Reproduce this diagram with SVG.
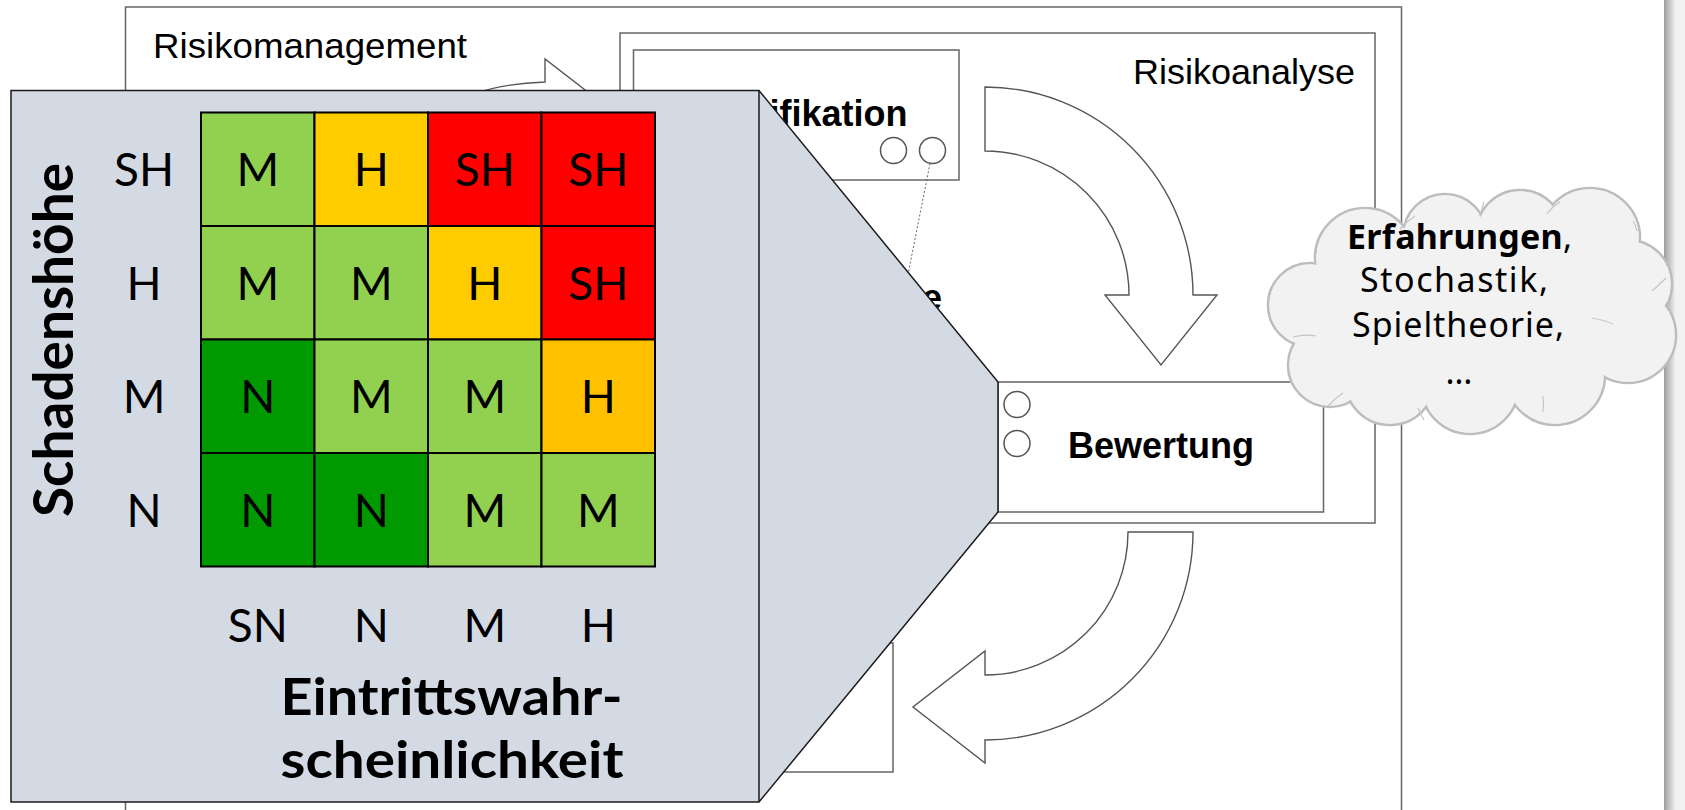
<svg xmlns="http://www.w3.org/2000/svg" width="1685" height="810" viewBox="0 0 1685 810">
  <defs>
    <linearGradient id="pageEdge" x1="0" y1="0" x2="1" y2="0">
      <stop offset="0" stop-color="#9a9a9a"/>
      <stop offset="0.25" stop-color="#b4b4b4"/>
      <stop offset="1" stop-color="#ececec"/>
    </linearGradient>
    <style>
      .frame { fill: #ffffff; stroke: #666666; stroke-width: 1.5; }
      .title { font-family: "Liberation Sans", Arial, sans-serif; font-size: 35px; fill: #000000; }
      .step { font-family: "Liberation Sans", Arial, sans-serif; font-size: 36px; font-weight: bold; fill: #000000; }
      .port { fill: #ffffff; stroke: #555555; stroke-width: 1.5; }
      .flow { fill: #ffffff; stroke: #555555; stroke-width: 1.4; }
      .link { fill: none; stroke: #666666; stroke-width: 1; stroke-dasharray: 2 2; }
      .cloudline { fill: #f2f2f2; stroke: #bdbdbd; stroke-width: 2.6; }
      .cloudfill { fill: #f2f2f2; }
      .crease { fill: none; stroke: #c4c4c4; stroke-width: 1.2; }
      .cloudtext { font-family: "Noto Sans", "DejaVu Sans", sans-serif; font-size: 34px; fill: #000000; }
      .panel { fill: #d3dae4; stroke: #1a1a1a; stroke-width: 1.5; }
      .cell { stroke: #000000; stroke-width: 2; }
      .lg { fill: #92d050; }
      .ye { fill: #ffcc00; }
      .or { fill: #ffc000; }
      .rd { fill: #ff0000; }
      .dg { fill: #009900; }
      .mx { font-family: Lato, "Open Sans", sans-serif; font-size: 46px; fill: #000000; text-anchor: middle; }
      .axis { font-family: Lato, "Open Sans", sans-serif; font-weight: bold; fill: #000000; }
    </style>
  </defs>

  <rect width="1685" height="810" fill="#ffffff"/>

  <!-- page edge on the right -->
  <g id="page-edge">
    <rect x="1664" y="0" width="11" height="810" fill="url(#pageEdge)"/>
    <rect x="1675" y="0" width="10" height="810" fill="#f2f2f2"/>
  </g>

  <!-- outer frame: Risikomanagement -->
  <g id="risikomanagement">
    <rect class="frame" x="125.5" y="7" width="1276" height="820"/>
    <text class="title" x="153" y="58" textLength="314" lengthAdjust="spacingAndGlyphs">Risikomanagement</text>
  </g>

  <!-- inner frame: Risikoanalyse -->
  <g id="risikoanalyse">
    <rect class="frame" x="620" y="33" width="755" height="490"/>
    <text class="title" x="1133" y="83.5" textLength="222" lengthAdjust="spacingAndGlyphs">Risikoanalyse</text>
  </g>

  <g id="identifikation">
    <rect class="frame" x="633.5" y="50" width="325.5" height="130"/>
    <text class="step" x="907.5" y="125.5" text-anchor="end">ifikation</text>
    <circle class="port" cx="893.5" cy="150.5" r="13"/>
    <circle class="port" cx="932.5" cy="150.5" r="13"/>
  </g>

  <g id="zwischenschritt">
    <text class="step" x="922" y="310">e</text>
  </g>

  <g id="massnahmen">
    <rect class="frame" x="700" y="643" width="193" height="129"/>
  </g>

  <!-- connectors: block arrows and dotted links -->
  <g id="connectors">
    <path class="flow" d="M440 110 Q480 84 545 82 L545 59 L611 110 Z"/>
    <path class="flow" d="M985 87 A208 208 0 0 1 1193 295 L1217 295 L1161 365 L1105 295 L1129 295 A144 144 0 0 0 985 151 Z"/>
    <path class="flow" d="M1128 532 L1193 532 A208 208 0 0 1 985 740 L985 763 L913 707 L985 651 L985 675 A143 143 0 0 0 1128 532 Z"/>
    <line class="link" x1="930" y1="163.5" x2="895" y2="340"/>
    <line class="link" x1="960" y1="355" x2="1007" y2="394"/>
  </g>

  <g id="bewertung">
    <rect class="frame" x="998" y="382" width="325.5" height="130"/>
    <circle class="port" cx="1017" cy="404.5" r="13"/>
    <circle class="port" cx="1017" cy="443.5" r="13"/>
    <text class="step" x="1161" y="457.5" text-anchor="middle">Bewertung</text>
  </g>

  <!-- knowledge cloud -->
  <g id="wissen">
    <g class="cloudline">
      <circle cx="1310" cy="305" r="42"/>
      <circle cx="1330" cy="365" r="42"/>
      <circle cx="1365" cy="258" r="50"/>
      <circle cx="1445" cy="236" r="42"/>
      <circle cx="1520" cy="234" r="44"/>
      <circle cx="1590" cy="238" r="50"/>
      <circle cx="1628" cy="284" r="44"/>
      <circle cx="1628" cy="335" r="48"/>
      <circle cx="1555" cy="375" r="50"/>
      <circle cx="1470" cy="385" r="49"/>
      <circle cx="1390" cy="380" r="45"/>
    </g>
    <g class="cloudfill">
      <circle cx="1310" cy="305" r="40.7"/>
      <circle cx="1330" cy="365" r="40.7"/>
      <circle cx="1365" cy="258" r="48.7"/>
      <circle cx="1445" cy="236" r="40.7"/>
      <circle cx="1520" cy="234" r="42.7"/>
      <circle cx="1590" cy="238" r="48.7"/>
      <circle cx="1628" cy="284" r="42.7"/>
      <circle cx="1628" cy="335" r="46.7"/>
      <circle cx="1555" cy="375" r="48.7"/>
      <circle cx="1470" cy="385" r="47.7"/>
      <circle cx="1390" cy="380" r="43.7"/>
      <ellipse cx="1470" cy="310" rx="160" ry="90"/>
    </g>
    <g class="crease">
      <path d="M1293 337 Q1305 334 1316 336"/>
      <path d="M1328 406 Q1335 398 1343 393"/>
      <path d="M1415 216 Q1406 222 1400 229"/>
      <path d="M1480 216 Q1482 208 1484 202"/>
      <path d="M1547 214 Q1552 207 1560 202"/>
      <path d="M1633 221 Q1636 226 1637 231"/>
      <path d="M1652 291 Q1660 284 1666 278"/>
      <path d="M1592 318 Q1604 320 1613 324"/>
      <path d="M1543 412 Q1544 404 1543 396"/>
      <path d="M1418 408 Q1421 415 1424 420"/>
    </g>
    <text class="cloudtext" x="1347" y="249" textLength="225" lengthAdjust="spacing"><tspan font-weight="bold">Erfahrungen</tspan>,</text>
    <text class="cloudtext" x="1360" y="292" textLength="188" lengthAdjust="spacing">Stochastik,</text>
    <text class="cloudtext" x="1352" y="337" textLength="212" lengthAdjust="spacing">Spieltheorie,</text>
    <text class="cloudtext" x="1459" y="384" text-anchor="middle">…</text>
  </g>

  <!-- risk matrix callout -->
  <g id="risikomatrix">
    <path class="panel" d="M11 90.5 H759 L998 382 V512 L759 802 H11 Z"/>
    <line x1="759" y1="90.5" x2="759" y2="802" stroke="#1a1a1a" stroke-width="1.5"/>

    <rect class="cell lg" x="201" y="112.5" width="113.5" height="113.5"/>
    <rect class="cell ye" x="314.5" y="112.5" width="113.5" height="113.5"/>
    <rect class="cell rd" x="428" y="112.5" width="113.5" height="113.5"/>
    <rect class="cell rd" x="541.5" y="112.5" width="113.5" height="113.5"/>

    <rect class="cell lg" x="201" y="226" width="113.5" height="113.5"/>
    <rect class="cell lg" x="314.5" y="226" width="113.5" height="113.5"/>
    <rect class="cell ye" x="428" y="226" width="113.5" height="113.5"/>
    <rect class="cell rd" x="541.5" y="226" width="113.5" height="113.5"/>

    <rect class="cell dg" x="201" y="339.5" width="113.5" height="113.5"/>
    <rect class="cell lg" x="314.5" y="339.5" width="113.5" height="113.5"/>
    <rect class="cell lg" x="428" y="339.5" width="113.5" height="113.5"/>
    <rect class="cell or" x="541.5" y="339.5" width="113.5" height="113.5"/>

    <rect class="cell dg" x="201" y="453" width="113.5" height="113.5"/>
    <rect class="cell dg" x="314.5" y="453" width="113.5" height="113.5"/>
    <rect class="cell lg" x="428" y="453" width="113.5" height="113.5"/>
    <rect class="cell lg" x="541.5" y="453" width="113.5" height="113.5"/>

    <text class="mx" x="257.75" y="186">M</text>
    <text class="mx" x="371.25" y="186">H</text>
    <text class="mx" x="484.75" y="186">SH</text>
    <text class="mx" x="598.25" y="186">SH</text>

    <text class="mx" x="257.75" y="299.5">M</text>
    <text class="mx" x="371.25" y="299.5">M</text>
    <text class="mx" x="484.75" y="299.5">H</text>
    <text class="mx" x="598.25" y="299.5">SH</text>

    <text class="mx" x="257.75" y="413">N</text>
    <text class="mx" x="371.25" y="413">M</text>
    <text class="mx" x="484.75" y="413">M</text>
    <text class="mx" x="598.25" y="413">H</text>

    <text class="mx" x="257.75" y="526.5">N</text>
    <text class="mx" x="371.25" y="526.5">N</text>
    <text class="mx" x="484.75" y="526.5">M</text>
    <text class="mx" x="598.25" y="526.5">M</text>

    <!-- row labels -->
    <text class="mx" x="144" y="186">SH</text>
    <text class="mx" x="144" y="299.5">H</text>
    <text class="mx" x="144" y="413">M</text>
    <text class="mx" x="144" y="526.5">N</text>

    <!-- column labels -->
    <text class="mx" x="257.75" y="641.5">SN</text>
    <text class="mx" x="371.25" y="641.5">N</text>
    <text class="mx" x="484.75" y="641.5">M</text>
    <text class="mx" x="598.25" y="641.5">H</text>

    <text class="axis" font-size="55" text-anchor="middle" transform="translate(73 340) rotate(-90)" textLength="354" lengthAdjust="spacingAndGlyphs">Schadenshöhe</text>
    <text class="axis" font-size="51" x="280.5" y="715" textLength="342" lengthAdjust="spacingAndGlyphs">Eintrittswahr-</text>
    <text class="axis" font-size="51" x="280.5" y="778" textLength="343" lengthAdjust="spacingAndGlyphs">scheinlichkeit</text>
  </g>
</svg>
